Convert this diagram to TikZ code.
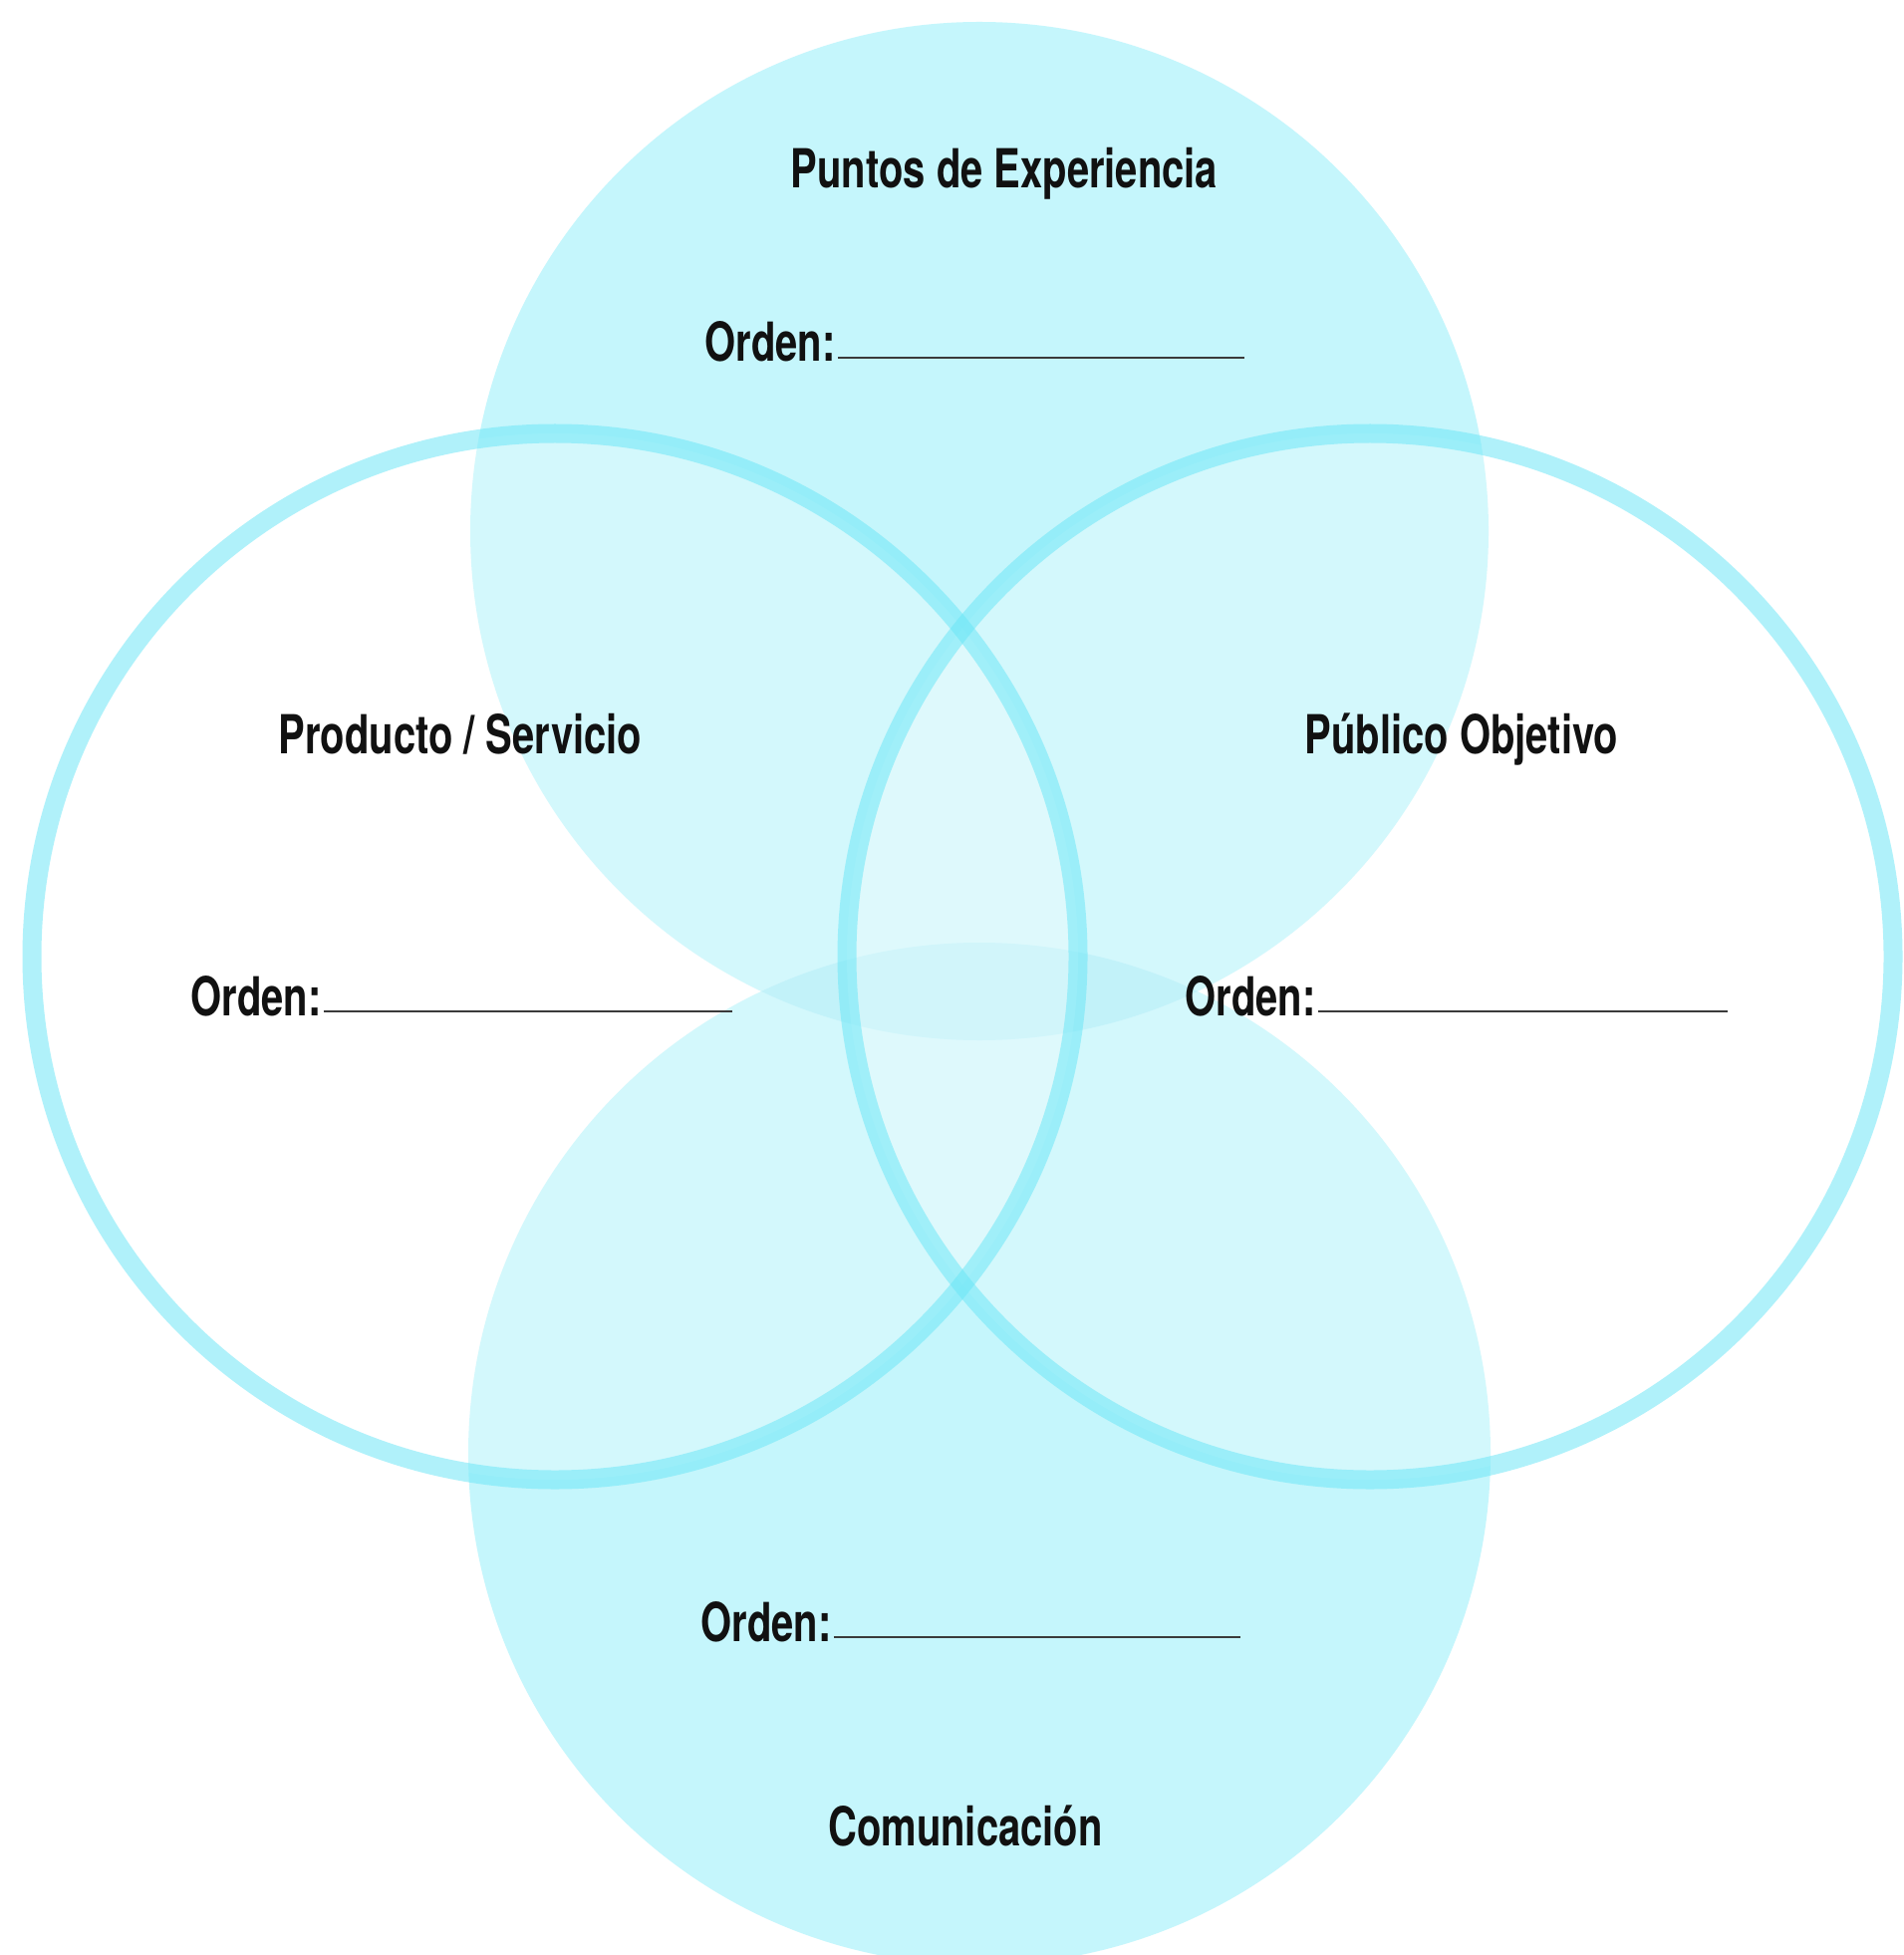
\documentclass[tikz,border=0pt]{standalone}
\usepackage{fontspec}
\setmainfont{TeX Gyre Heros}[FakeStretch=0.74]
\definecolor{circfill}{HTML}{C5F6FC}
\definecolor{lensfill}{HTML}{AEEEF8}
\definecolor{ringcol}{RGB}{105,230,247}
\definecolor{linecol}{HTML}{3A3A3A}
\definecolor{txtcol}{HTML}{111111}
\begin{document}
\begin{tikzpicture}[x=0.5pt,y=-0.5pt,
  disc/.style={fill=circfill},
  ringline/.style={draw=ringcol, draw opacity=0.52, line width=9.5pt},
  ringfill/.style={fill=white, fill opacity=0.25},
  lbl/.style={inner sep=0pt, font=\fontsize{27}{32}\selectfont\bfseries, text=txtcol},
  ord/.style={lbl, anchor=base west},
  blank/.style={draw=linecol, line width=0.8pt}]
\useasboundingbox (0,0) rectangle (1910,1962);
\fill[white] (0,0) rectangle (1910,1962);
% filled discs
\fill[disc] (983,533) circle[radius=511];
\fill[disc] (983,1459) circle[radius=513];
\begin{scope}
  \clip (983,533) circle[radius=511];
  \fill[lensfill] (983,1459) circle[radius=513];
\end{scope}
% rings
\fill[ringfill] (557,960) circle[radius=525];
\fill[ringfill] (1375,960) circle[radius=525];
\draw[ringline] (557,960) circle[radius=525];
\draw[ringline] (1375,960) circle[radius=525];
% titles
\node[lbl, anchor=base] (pe) at (1008,189) {Puntos de Experiencia};
\node[lbl, anchor=base] (ps) at (462,756) {Producto / Servicio};
\node[lbl, anchor=base] (po) at (1467,756) {Público Objetivo};
\node[lbl, anchor=base] (co) at (969,1852) {Comunicación};
% order fields
\node[ord] (o1) at (707,363) {Orden:};
\coordinate (o1e) at (1249,359);
\draw[blank] ([shift={(1pt,2pt)}]o1.base east) -- (o1e);
\node[ord] (o2) at (191,1019) {Orden:};
\coordinate (o2e) at (735,1015);
\draw[blank] ([shift={(1pt,2pt)}]o2.base east) -- (o2e);
\node[ord] (o3) at (1189,1019) {Orden:};
\coordinate (o3e) at (1734,1015);
\draw[blank] ([shift={(1pt,2pt)}]o3.base east) -- (o3e);
\node[ord] (o4) at (703,1647) {Orden:};
\coordinate (o4e) at (1245,1643);
\draw[blank] ([shift={(1pt,2pt)}]o4.base east) -- (o4e);
\end{tikzpicture}
\end{document}
